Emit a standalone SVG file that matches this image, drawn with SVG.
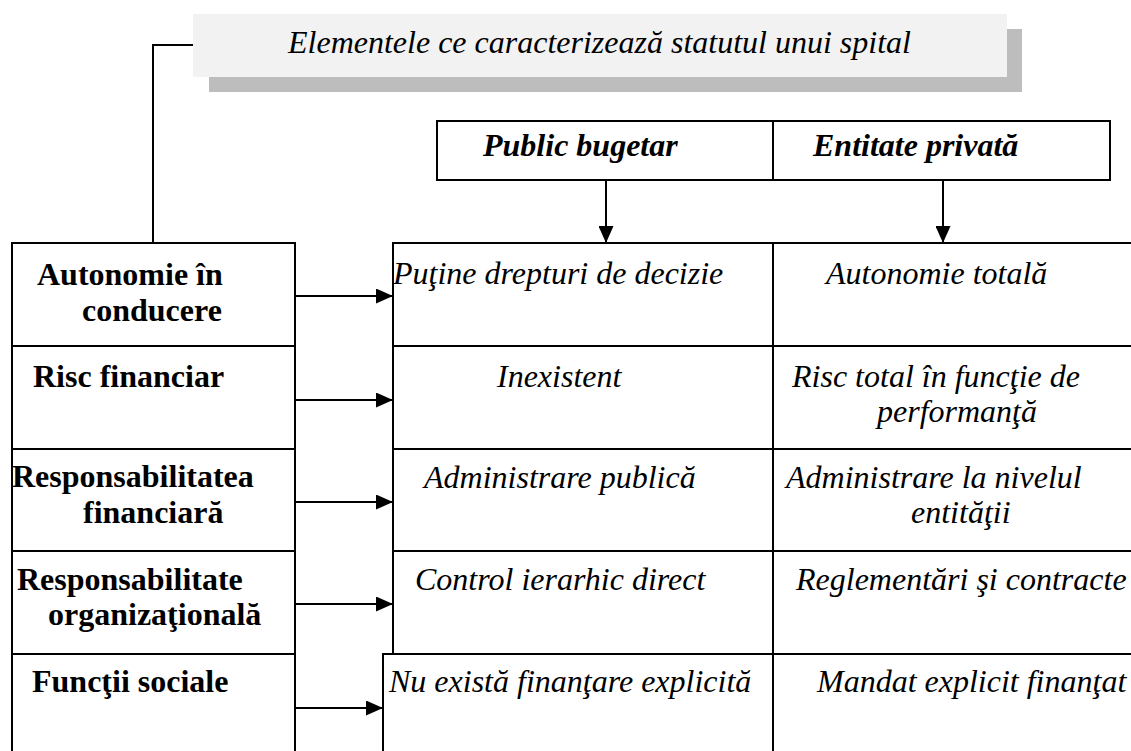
<svg xmlns="http://www.w3.org/2000/svg" width="1131" height="751" viewBox="0 0 1131 751">
<defs>
<style>
.ln{stroke:#000;stroke-width:2;fill:none}
.cell{fill:#fff;stroke:#000;stroke-width:2}
.b{font-family:"Liberation Serif","Times New Roman",serif;font-size:32px;font-weight:bold;fill:#000}
.i{font-family:"Liberation Serif","Times New Roman",serif;font-size:32px;font-style:italic;fill:#000}
.bi{font-family:"Liberation Serif","Times New Roman",serif;font-size:32px;font-style:italic;font-weight:bold;fill:#000}
</style>
<marker id="ah" viewBox="0 0 17 15" refX="17" refY="7.5" markerWidth="17" markerHeight="15" markerUnits="userSpaceOnUse" orient="auto">
<path d="M0,0 L17,7.5 L0,15 Z" fill="#000"/>
</marker>
</defs>
<rect width="1131" height="751" fill="#fff"/>

<g id="title">
<rect x="209" y="29" width="813" height="63" fill="#bdbdbd"/>
<rect x="193" y="14" width="814" height="63" fill="#f2f2f2"/>
<text class="i" x="288" y="53">Elementele ce caracterizează statutul unui spital</text>
</g>

<g id="header-public">
<rect class="cell" x="437" y="121" width="336" height="59"/>
<text class="bi" x="483" y="156">Public bugetar</text>
</g>
<g id="header-privat">
<rect class="cell" x="773" y="121" width="337" height="59"/>
<text class="bi" x="813" y="156">Entitate privată</text>
</g>

<g id="left-autonomie">
<rect class="cell" x="12" y="243" width="283" height="103"/>
<text class="b" x="37" y="285">Autonomie în</text>
<text class="b" x="82" y="321">conducere</text>
</g>
<g id="left-risc">
<rect class="cell" x="12" y="346" width="283" height="103"/>
<text class="b" x="33" y="387">Risc financiar</text>
</g>
<g id="left-respfin">
<rect class="cell" x="12" y="449" width="283" height="102"/>
<text class="b" x="12" y="487">Responsabilitatea</text>
<text class="b" x="83" y="523">financiară</text>
</g>
<g id="left-resporg">
<rect class="cell" x="12" y="551" width="283" height="103"/>
<text class="b" x="17" y="590">Responsabilitate</text>
<text class="b" x="48" y="625">organizaţională</text>
</g>
<g id="left-functii">
<rect class="cell" x="12" y="654" width="283" height="110"/>
<text class="b" x="32" y="692">Funcţii sociale</text>
</g>

<g id="pub-1">
<path class="ln" d="M393,346 V243 H773"/>
<text class="i" x="393" y="284">Puţine drepturi de decizie</text>
</g>
<g id="pub-2">
<path class="ln" d="M393,449 V346 H773"/>
<text class="i" x="497" y="387">Inexistent</text>
</g>
<g id="pub-3">
<path class="ln" d="M393,551 V449 H773"/>
<text class="i" x="424" y="488">Administrare publică</text>
</g>
<g id="pub-4">
<path class="ln" d="M393,654 V551 H773"/>
<text class="i" x="415" y="590">Control ierarhic direct</text>
</g>
<g id="pub-5">
<path class="ln" d="M383,760 V654 H773"/>
<text class="i" x="389" y="692">Nu există finanţare explicită</text>
</g>

<g id="priv-1">
<path class="ln" d="M773,760 V243 H1132"/>
<text class="i" x="826" y="284">Autonomie totală</text>
</g>
<g id="priv-2">
<path class="ln" d="M773,346 H1132"/>
<text class="i" x="792" y="387">Risc total în funcţie de</text>
<text class="i" x="877" y="422">performanţă</text>
</g>
<g id="priv-3">
<path class="ln" d="M773,449 H1132"/>
<text class="i" x="786" y="488">Administrare la nivelul</text>
<text class="i" x="911" y="523">entităţii</text>
</g>
<g id="priv-4">
<path class="ln" d="M773,551 H1132"/>
<text class="i" x="796" y="590">Reglementări şi contracte</text>
</g>
<g id="priv-5">
<path class="ln" d="M773,654 H1132"/>
<text class="i" x="817" y="692">Mandat explicit finanţat</text>
</g>

<g id="connectors">
<path class="ln" d="M193,45 H153 V243"/>
<line class="ln" x1="606" y1="180" x2="606" y2="243" marker-end="url(#ah)"/>
<line class="ln" x1="943" y1="180" x2="943" y2="243" marker-end="url(#ah)"/>
<line class="ln" x1="295" y1="296" x2="393" y2="296" marker-end="url(#ah)"/>
<line class="ln" x1="295" y1="400" x2="393" y2="400" marker-end="url(#ah)"/>
<line class="ln" x1="295" y1="502" x2="393" y2="502" marker-end="url(#ah)"/>
<line class="ln" x1="295" y1="604" x2="393" y2="604" marker-end="url(#ah)"/>
<line class="ln" x1="295" y1="708" x2="383" y2="708" marker-end="url(#ah)"/>
</g>
</svg>
